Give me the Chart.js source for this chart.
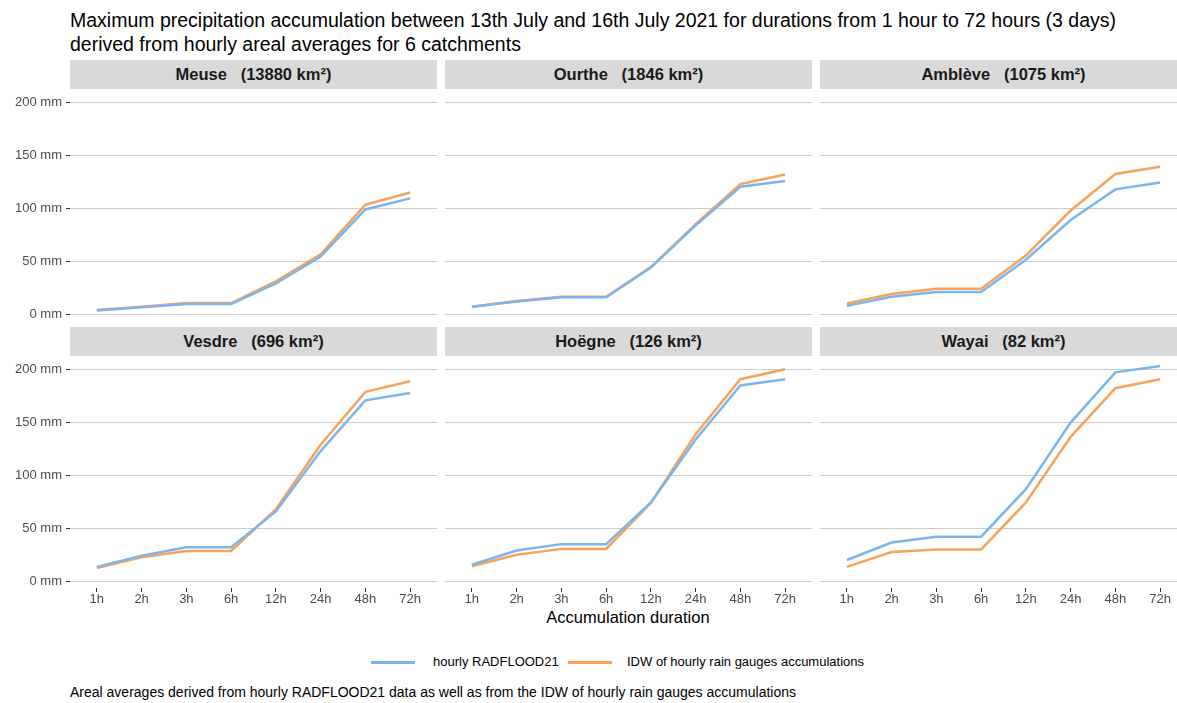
<!DOCTYPE html>
<html>
<head>
<meta charset="utf-8">
<script src="https://cdn.jsdelivr.net/npm/chart.js@4.4.1/dist/chart.umd.min.js"></script>
<style>
  html, body { margin: 0; padding: 0; width: 1177px; height: 703px; overflow: hidden; background: #fff; }
  body { position: relative; font-family: 'Liberation Sans', Arial, sans-serif; }
  .title { position: absolute; left: 70px; top: 8px; font-size: 19.5px; line-height: 24px; color: #000; white-space: nowrap; }
  .strip { position: absolute; height: 29px; background: #d9d9d9; color: #1a1a1a; font-weight: bold; font-size: 16.5px;
           line-height: 29px; text-align: center; white-space: pre; }
  .panel { position: absolute; }
  .xtitle { position: absolute; left: 70px; width: 1116px; top: 608px; text-align: center; font-size: 16.5px; color: #000; }
  .legend { position: absolute; top: 654px; font-size: 13px; color: #000; white-space: nowrap; }
  .legend span.swatch { position: absolute; top: 7px; width: 44px; height: 3px; }
  .caption { position: absolute; left: 70px; top: 684px; font-size: 14px; color: #000; white-space: nowrap; }
</style>
</head>
<body>
<div class="title">Maximum precipitation accumulation between 13th July and 16th July 2021 for durations from 1 hour to 72 hours (3 days)<br>derived from hourly areal averages for 6 catchments</div>
<div class="xtitle">Accumulation duration</div>
<div class="legend" style="left:371px;"><span class="swatch" style="left:0;background:#7cb5ec;"></span><span style="position:absolute;left:62px;">hourly RADFLOOD21</span></div>
<div class="legend" style="left:568px;"><span class="swatch" style="left:0;background:#f7a35c;"></span><span style="position:absolute;left:59px;">IDW of hourly rain gauges accumulations</span></div>
<div class="caption">Areal averages derived from hourly RADFLOOD21 data as well as from the IDW of hourly rain gauges accumulations</div>

<script>
// data
const durations = ['1h', '2h', '3h', '6h', '12h', '24h', '48h', '72h'];
const catchments = ['Meuse', 'Ourthe', 'Amblève', 'Vesdre', 'Hoëgne', 'Wayai'];
const areas = [13880, 1846, 1075, 696, 126, 82];
const seriesNames = ['hourly RADFLOOD21', 'IDW of hourly rain gauges accumulations'];
const yTicks = [0, 50, 100, 150, 200];

const radMeuse  = [3.5, 6.5, 9.5, 9.5, 29, 54.5, 99, 109.5];
const idwMeuse  = [4, 7, 10.5, 10.5, 31, 56.5, 103.5, 115];
const radOurthe = [7, 12, 16, 16, 44, 84, 120.5, 126];
const idwOurthe = [7, 12.5, 16.5, 16.5, 44.5, 85, 123, 132];
const radAmbleve = [8, 16.5, 21, 21, 51.5, 89, 118, 124.5];
const idwAmbleve = [10, 19, 24, 24, 55.5, 98, 132.5, 139.5];
const radVesdre = [13.5, 24, 32, 32, 66, 123, 171, 178];
const idwVesdre = [12.5, 22.5, 28.5, 28.5, 68, 129, 179, 189];
const radHoegne = [15.5, 29, 35, 35, 74.5, 134, 185, 191];
const idwHoegne = [14, 25, 30.5, 30.5, 74, 139, 191, 200.5];
const radWayai  = [20, 36.5, 42, 42, 87, 150, 197.5, 203.5];
const idwWayai  = [13.5, 27.5, 30, 30, 74.5, 136.5, 182.5, 191];

const radSeries = [radMeuse, radOurthe, radAmbleve, radVesdre, radHoegne, radWayai];
const idwSeries = [idwMeuse, idwOurthe, idwAmbleve, idwVesdre, idwHoegne, idwWayai];

Chart.defaults.font.family = "'Liberation Sans', Arial, sans-serif";

// panel geometry (ggplot-like facet grid)
const colLeft = [70, 445, 820];
const rowTop = [90, 357];
const stripTop = [60, 327];
const plotW = 367, plotH = 231;

const toPoints = arr => arr.map((v, i) => ({ x: i + 1, y: v }));

catchments.forEach(function (name, i) {
    const col = i % 3, row = Math.floor(i / 3);
    const showY = col === 0, showX = row === 1;
    const axisW = showY ? 70 : 0, axisH = showX ? 24 : 0;

    const strip = document.createElement('div');
    strip.className = 'strip';
    strip.style.left = colLeft[col] + 'px';
    strip.style.top = stripTop[row] + 'px';
    strip.style.width = plotW + 'px';
    strip.textContent = name + '   (' + areas[i] + ' km²)';
    document.body.appendChild(strip);

    const box = document.createElement('div');
    box.className = 'panel';
    box.style.left = (colLeft[col] - axisW) + 'px';
    box.style.top = rowTop[row] + 'px';
    box.style.width = (plotW + axisW) + 'px';
    box.style.height = (plotH + axisH) + 'px';
    const canvas = document.createElement('canvas');
    box.appendChild(canvas);
    document.body.appendChild(box);

    new Chart(canvas.getContext('2d'), {
        type: 'line',
        data: {
            datasets: [{
                label: seriesNames[0],
                data: toPoints(radSeries[i]),
                borderColor: '#7cb5ec',
                borderWidth: 2.5,
                pointRadius: 0,
                tension: 0
            }, {
                label: seriesNames[1],
                data: toPoints(idwSeries[i]),
                borderColor: '#f7a35c',
                borderWidth: 2.5,
                pointRadius: 0,
                tension: 0
            }]
        },
        options: {
            responsive: true,
            maintainAspectRatio: false,
            animation: false,
            layout: { padding: 0 },
            plugins: { legend: { display: false }, tooltip: { enabled: false } },
            scales: {
                x: {
                    type: 'linear',
                    min: 0.4,
                    max: 8.6,
                    display: showX,
                    afterBuildTicks: s => { s.ticks = durations.map((d, k) => ({ value: k + 1 })); },
                    afterFit: s => { s.height = axisH; s.paddingLeft = 0; s.paddingRight = 0; },
                    border: { display: false },
                    grid: { drawOnChartArea: false, drawTicks: true, tickLength: 4, tickColor: '#333333' },
                    ticks: {
                        color: '#4d4d4d',
                        font: { size: 13 },
                        padding: 0,
                        maxRotation: 0,
                        autoSkip: false,
                        callback: v => durations[v - 1]
                    }
                },
                y: {
                    min: -6.5,
                    max: 212,
                    afterBuildTicks: s => { s.ticks = yTicks.map(v => ({ value: v })); },
                    afterFit: s => { s.width = axisW; s.paddingTop = 0; s.paddingBottom = 0; },
                    border: { display: false },
                    grid: { color: '#cccccc', lineWidth: 1, drawTicks: showY, tickLength: 4, tickColor: '#333333' },
                    ticks: {
                        display: showY,
                        color: '#4d4d4d',
                        font: { size: 13 },
                        padding: 4,
                        callback: v => v + ' mm'
                    }
                }
            }
        }
    });
});
</script>
</body>
</html>
